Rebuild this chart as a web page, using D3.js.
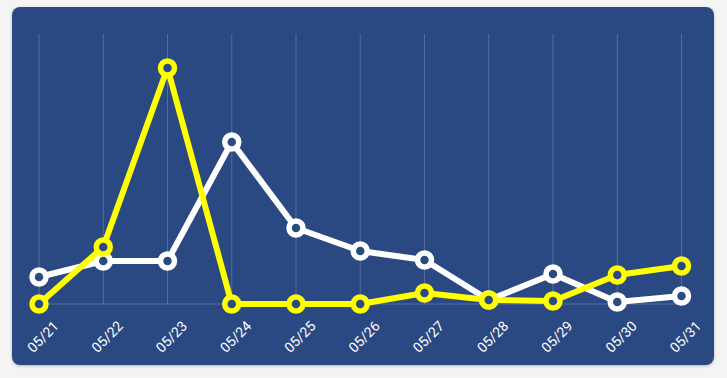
<!DOCTYPE html>
<html><head><meta charset="utf-8">
<script src="https://cdn.jsdelivr.net/npm/d3@7"></script>
<style>
html,body{margin:0;padding:0;background:#f4f4f4;}
svg{display:block;}
</style></head>
<body>
<svg id="chart" width="727" height="378"></svg>
<script>
const categories = ["05/21","05/22","05/23","05/24","05/25","05/26","05/27","05/28","05/29","05/30","05/31"];
const whiteSeries = [27, 43, 43, 162, 76, 53, 44, 4, 30, 2, 8];
const yellowSeries = [0, 57, 236, 0, 0, 0, 11, 4, 3, 29, 38];
const yMax = 270;

const W = 727, H = 378;
const card = {x: 12, y: 7, w: 702, h: 358, r: 8};
const plot = {left: 39, right: 681.5, top: 34, bottom: 304};
const cardColor = "#2a4a82";

const svg = d3.select("#chart");
const defs = svg.append("defs");
const f = defs.append("filter").attr("id","sh").attr("x","-5%").attr("y","-5%").attr("width","110%").attr("height","115%");
f.append("feDropShadow").attr("dx",0).attr("dy",1).attr("stdDeviation",1.5).attr("flood-color","#000").attr("flood-opacity",0.25);

svg.append("rect").attr("x",card.x).attr("y",card.y).attr("width",card.w).attr("height",card.h)
  .attr("rx",card.r).attr("fill",cardColor).attr("filter","url(#sh)");

const x = d3.scalePoint().domain(categories).range([plot.left, plot.right]);
const y = d3.scaleLinear().domain([0, yMax]).range([plot.bottom, plot.top]);

const grid = svg.append("g");
grid.selectAll("line.v").data(categories).join("line")
  .attr("x1", d => x(d)).attr("x2", d => x(d))
  .attr("y1", plot.top).attr("y2", plot.bottom)
  .attr("stroke","rgba(255,255,255,0.2)").attr("stroke-width",1);
grid.append("line").attr("x1",plot.left).attr("x2",plot.right).attr("y1",y(0)).attr("y2",y(0))
  .attr("stroke","rgba(255,255,255,0.2)").attr("stroke-width",1);

const xAxis = d3.axisBottom(x).tickSize(0).tickPadding(0);
const ax = svg.append("g").attr("transform",`translate(0,${plot.bottom})`).call(xAxis)
  .attr("font-family","Roboto, 'Noto Sans', sans-serif").attr("font-size",14);
ax.select(".domain").remove();
ax.selectAll("text")
  .attr("fill","#ffffff").attr("font-size","14px")
  .attr("font-family","Roboto, 'Noto Sans', sans-serif")
  .attr("text-anchor","end")
  .attr("dy","0.71em").attr("y",0)
  .attr("transform","translate(13,16) rotate(-45)");

const line = d3.line().x((d,i) => x(categories[i])).y(d => y(d));

function drawSeries(vals, color){
  svg.append("path").datum(vals).attr("d", line).attr("fill","none")
    .attr("stroke", color).attr("stroke-width",6).attr("stroke-linejoin","round");
  svg.append("g").selectAll("circle").data(vals).join("circle")
    .attr("cx",(d,i)=>x(categories[i])).attr("cy",d=>y(d)).attr("r",7)
    .attr("fill",cardColor).attr("stroke",color).attr("stroke-width",5.5);
}
drawSeries(whiteSeries, "#ffffff");
drawSeries(yellowSeries, "#ffff00");
</script>
</body></html>
